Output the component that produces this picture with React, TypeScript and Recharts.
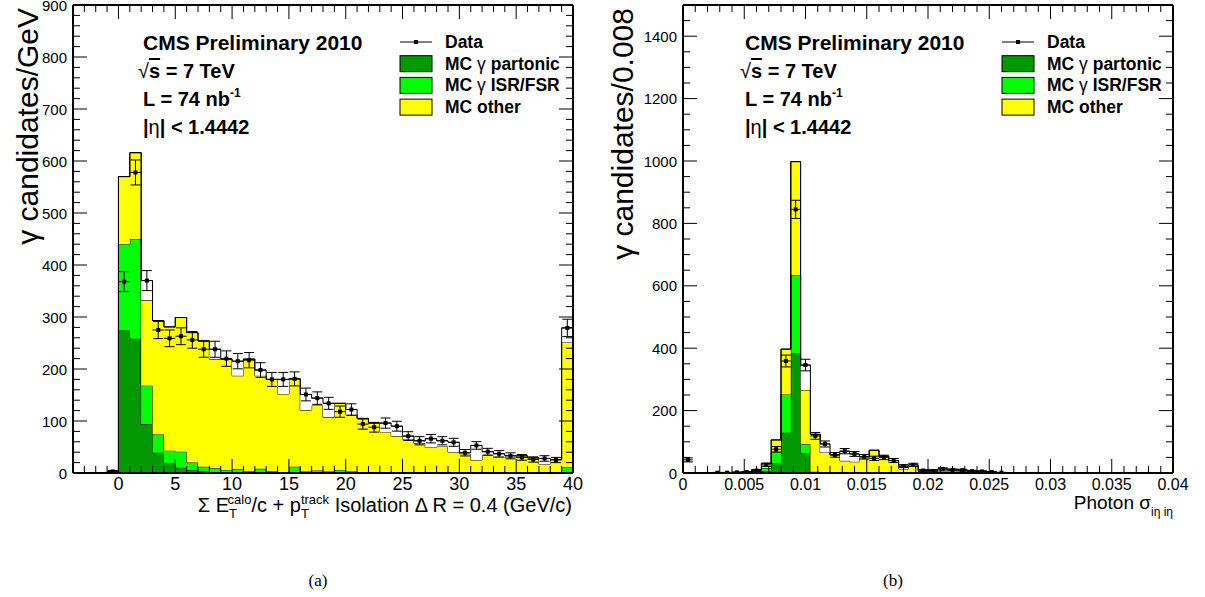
import { ComposedChart, Area, Scatter, ErrorBar, XAxis, YAxis } from 'recharts';

const FONT = '"Liberation Sans", Arial, Helvetica, sans-serif';

// isolation panel, 1 GeV bins starting at -1
const isoLow = -1;
const isoWidth = 1;
const isoTotal = [3, 570, 616, 332, 293, 281, 299, 270, 254, 219, 219, 187, 219, 187, 180, 152, 181, 121, 130, 107, 134, 112, 105, 96, 79, 71, 65, 57, 49, 51, 40, 37, 25, 34, 30, 31, 33, 29, 17, 26, 251];
const isoGreenTop = [3, 440, 450, 168, 74, 43, 41, 20, 12, 9, 6, 7, 4, 8, 4, 1, 12, 3, 5, 3, 6, 3, 2, 2, 2, 2, 2, 1, 1, 1, 1, 1, 1, 1, 1, 1, 1, 1, 1, 1, 11];
const isoPartonic = [3, 274, 258, 94, 39, 19, 10, 6, 3, 2, 1, 1, 1, 1, 1, 1, 1, 1, 1, 1, 1, 1, 1, 1, 0, 0, 0, 0, 0, 0, 0, 0, 0, 0, 0, 0, 0, 0, 0, 0, 1];
const isoData = [3, 368, 578, 370, 275, 259, 263, 256, 238, 238, 220, 215, 217, 198, 180, 180, 181, 151, 144, 134, 118, 122, 94, 88, 96, 90, 71, 62, 66, 62, 59, 39, 53, 41, 37, 33, 30, 26, 28, 25, 279];
const isoOpen = [0, 0, 0, 38, 0, 0, 0, 0, 0, 19, 0, 28, 0, 11, 0, 28, 0, 30, 14, 27, 0, 10, 0, 0, 17, 19, 6, 5, 17, 11, 19, 2, 28, 7, 7, 2, 0, 0, 11, 0, 28];

// sigma ieta ieta panel, 0.0008 bins starting at 0
const sieLow = 0;
const sieWidth = 0.0008;
const sieTotal = [0, 0, 0, 0, 0, 0, 2, 10, 31, 106, 397, 998, 266, 124, 66, 58, 39, 36, 49, 73, 54, 36, 13, 22, 8, 10, 6, 4, 3, 2, 1, 1, 0, 0, 0, 0, 0, 0, 0, 0, 0, 0, 0, 0, 0, 0, 0, 0, 0, 0];
const sieGreenTop = [0, 0, 0, 0, 0, 0, 2, 8, 16, 68, 252, 635, 92, 4, 3, 2, 2, 1, 2, 2, 1, 1, 0, 0, 0, 0, 0, 0, 0, 0, 0, 0, 0, 0, 0, 0, 0, 0, 0, 0, 0, 0, 0, 0, 0, 0, 0, 0, 0, 0];
const siePartonic = [0, 0, 0, 0, 0, 0, 1, 6, 6, 31, 129, 384, 63, 1, 1, 1, 1, 0, 0, 0, 0, 0, 0, 0, 0, 0, 0, 0, 0, 0, 0, 0, 0, 0, 0, 0, 0, 0, 0, 0, 0, 0, 0, 0, 0, 0, 0, 0, 0, 0];
const sieData = [42, 0, 0, 1, 1, 2, 3, 8, 26, 76, 359, 845, 346, 119, 93, 58, 70, 61, 52, 47, 50, 40, 22, 26, 8, 6, 13, 10, 9, 6, 5, 3, 1, 0, 0, 0, 0, 0, 0, 0, 0, 0, 0, 0, 0, 0, 0, 0, 0, 0];
const sieOpen = [0, 0, 0, 0, 0, 0, 1, 0, 0, 0, 0, 0, 80, 0, 27, 0, 31, 25, 3, 0, 0, 4, 9, 4, 0, 0, 7, 6, 6, 4, 4, 2, 0, 0, 0, 0, 0, 0, 0, 0, 0, 0, 0, 0, 0, 0, 0, 0, 0, 0];

const isoXTicks = Array.from({ length: 45 }, (_, i) => i - 4);
const isoYTicks = Array.from({ length: 46 }, (_, i) => i * 20);
const sieXTicks = Array.from({ length: 41 }, (_, i) => +(i * 0.001).toFixed(3));
const sieYTicks = Array.from({ length: 31 }, (_, i) => i * 50);

const legendItems = [
  { label: 'Data', color: '' },
  { label: 'MC γ partonic', color: '#009900' },
  { label: 'MC γ ISR/FSR', color: '#00ff00' },
  { label: 'MC other', color: '#ffff00' },
];

function histRows(low: number, width: number, partonic: number[], greenTop: number[], total: number[], open: number[]) {
  const rows = [];
  for (let i = 0; i <= total.length; i++) {
    const k = Math.min(i, total.length - 1);
    rows.push({
      x: +(low + i * width).toFixed(6),
      partonic: partonic[k],
      isr: greenTop[k] - partonic[k],
      other: total[k] - greenTop[k],
      open: open[k],
    });
  }
  return rows;
}

function pointRows(low: number, width: number, data: number[]) {
  return data
    .map((v, i) => ({ x: low + (i + 0.5) * width, y: v, ey: Math.sqrt(v), ex: width / 2 }))
    .filter((p) => p.y > 0);
}

const isMajor = (v: number, step: number) => Math.abs(v / step - Math.round(v / step)) < 1e-6;

function makeTick(side: string, step: number, fontSize: number, fmt?: (v: number) => string) {
  return (props: any) => {
    const { x, y, payload } = props;
    const v = payload.value;
    const major = isMajor(v, step);
    const len = major ? 14 : 7;
    let line = null;
    let label = null;
    if (side === 'bottom') {
      line = <line x1={x} y1={y} x2={x} y2={y - len} stroke="#000" strokeWidth={1} />;
      if (major && fmt) label = <text x={x} y={y + 17} textAnchor="middle" fontSize={fontSize} fontFamily={FONT}>{fmt(v)}</text>;
    } else if (side === 'top') {
      line = <line x1={x} y1={y} x2={x} y2={y + len} stroke="#000" strokeWidth={1} />;
    } else if (side === 'left') {
      line = <line x1={x} y1={y} x2={x + len} y2={y} stroke="#000" strokeWidth={1} />;
      if (major && fmt) label = <text x={x - 6} y={y} textAnchor="end" dominantBaseline="central" fontSize={fontSize} fontFamily={FONT}>{fmt(v)}</text>;
    } else {
      line = <line x1={x} y1={y} x2={x - len} y2={y} stroke="#000" strokeWidth={1} />;
    }
    return <g>{line}{label}</g>;
  };
}

const marker = (p: any) => <rect x={p.cx - 2} y={p.cy - 2} width={4} height={4} fill="#000" />;

type PanelProps = {
  rows: any[];
  points: any[];
  xDomain: number[];
  xTicks: number[];
  xStep: number;
  xFont: number;
  xFmt: (v: number) => string;
  yDomain: number[];
  yTicks: number[];
  yStep: number;
  right: number;
};

const frame = { stroke: '#000', strokeWidth: 2 };

function Panel(p: PanelProps) {
  return (
    <ComposedChart width={600} height={520} data={p.rows} margin={{ top: 4, right: p.right, bottom: 17, left: 13 }}>
      <Area xAxisId="b" yAxisId="l" type="stepAfter" dataKey="partonic" stackId="mc" fill="#009900" fillOpacity={1} stroke="#000" strokeWidth={1} dot={false} activeDot={false} isAnimationActive={false} />
      <Area xAxisId="b" yAxisId="l" type="stepAfter" dataKey="isr" stackId="mc" fill="#00ff00" fillOpacity={1} stroke="#000" strokeWidth={1} dot={false} activeDot={false} isAnimationActive={false} />
      <Area xAxisId="b" yAxisId="l" type="stepAfter" dataKey="other" stackId="mc" fill="#ffff00" fillOpacity={1} stroke="#000" strokeWidth={1} dot={false} activeDot={false} isAnimationActive={false} />
      <Area xAxisId="b" yAxisId="l" type="stepAfter" dataKey="open" stackId="mc" fill="#ffffff" fillOpacity={1} stroke="#000" strokeWidth={1} dot={false} activeDot={false} isAnimationActive={false} />
      <Scatter xAxisId="b" yAxisId="l" data={p.points} dataKey="y" fill="#000" shape={marker} isAnimationActive={false}>
        <ErrorBar dataKey="ey" direction="y" width={5} stroke="#000" strokeWidth={1} />
        <ErrorBar dataKey="ex" direction="x" width={0} stroke="#000" strokeWidth={1} />
      </Scatter>
      <XAxis xAxisId="b" type="number" dataKey="x" domain={p.xDomain} allowDataOverflow ticks={p.xTicks} interval={0} tickSize={0} tickMargin={0} tickLine={false} tick={makeTick('bottom', p.xStep, p.xFont, p.xFmt)} axisLine={frame} height={30} />
      <XAxis xAxisId="t" orientation="top" type="number" dataKey="x" domain={p.xDomain} allowDataOverflow ticks={p.xTicks} interval={0} tickSize={0} tickMargin={0} tickLine={false} tick={makeTick('top', p.xStep, 0)} axisLine={frame} height={1} />
      <YAxis yAxisId="l" type="number" domain={p.yDomain} allowDataOverflow ticks={p.yTicks} interval={0} tickSize={0} tickMargin={0} tickLine={false} tick={makeTick('left', p.yStep, 15, (v) => String(v))} axisLine={frame} width={60} />
      <YAxis yAxisId="r" orientation="right" type="number" domain={p.yDomain} allowDataOverflow ticks={p.yTicks} interval={0} tickSize={0} tickMargin={0} tickLine={false} tick={makeTick('right', p.yStep, 0)} axisLine={frame} width={10} />
    </ComposedChart>
  );
}

function withGreek(label: string) {
  const parts = label.split('γ');
  if (parts.length === 1) return label;
  return (
    <>
      {parts[0]}
      <tspan fontWeight="normal">γ</tspan>
      {parts[1]}
    </>
  );
}

function Notes({ tx, lx }: { tx: number; lx: number }) {
  return (
    <g fontFamily={FONT} fontWeight="bold" fill="#000">
      <text x={tx} y={50} fontSize={21}>CMS Preliminary 2010</text>
      <text x={tx - 5} y={78} fontSize={20}>
        <tspan fontWeight="normal">√</tspan>
        <tspan style={{ textDecoration: 'overline' }}>s</tspan> = 7 TeV
      </text>
      <text x={tx} y={106} fontSize={20}>
        L = 74 nb<tspan fontSize={12} dy={-9}>-1</tspan>
      </text>
      <text x={tx} y={134} fontSize={20}>
        |<tspan fontWeight="normal">η</tspan>| &lt; 1.4442
      </text>
      {legendItems.map((it, i) => {
        const cy = 42 + i * 21.7;
        return (
          <g key={it.label}>
            {it.color ? (
              <rect x={lx} y={cy - 8} width={32} height={16} fill={it.color} stroke="#000" strokeWidth={1} />
            ) : (
              <>
                <line x1={lx} y1={cy} x2={lx + 32} y2={cy} stroke="#000" strokeWidth={1} />
                <rect x={lx + 14} y={cy - 2} width={4} height={4} fill="#000" />
              </>
            )}
            <text x={lx + 45} y={cy} dominantBaseline="central" fontSize={17.5}>{withGreek(it.label)}</text>
          </g>
        );
      })}
    </g>
  );
}

export default function App() {
  const isoRows = histRows(isoLow, isoWidth, isoPartonic, isoGreenTop, isoTotal, isoOpen);
  const isoPoints = pointRows(isoLow, isoWidth, isoData);
  const sieRows = histRows(sieLow, sieWidth, siePartonic, sieGreenTop, sieTotal, sieOpen);
  const siePoints = pointRows(sieLow, sieWidth, sieData);

  return (
    <div style={{ position: 'absolute', left: 0, top: 0, width: 1205, height: 597, background: '#fff', overflow: 'hidden' }}>
      <div style={{ position: 'absolute', left: 0, top: 0 }}>
        <Panel rows={isoRows} points={isoPoints} xDomain={[-4, 40]} xTicks={isoXTicks} xStep={5} xFont={18} xFmt={(v) => String(v)}
          yDomain={[0, 900]} yTicks={isoYTicks} yStep={100} right={17} />
      </div>
      <div style={{ position: 'absolute', left: 610, top: 0 }}>
        <Panel rows={sieRows} points={siePoints} xDomain={[0, 0.04]} xTicks={sieXTicks} xStep={0.005} xFont={16}
          xFmt={(v) => (v === 0 ? '0' : String(+v.toFixed(3)))} yDomain={[0, 1500]} yTicks={sieYTicks} yStep={200} right={27} />
      </div>
      <svg width={1205} height={597} style={{ position: 'absolute', left: 0, top: 0, pointerEvents: 'none' }}>
        <Notes tx={143} lx={400} />
        <Notes tx={745} lx={1002} />
        <text transform="translate(38,8) rotate(-90)" textAnchor="end" fontSize={30} fontFamily={FONT}>γ candidates/GeV</text>
        <text transform="translate(633,8) rotate(-90)" textAnchor="end" fontSize={30} fontFamily={FONT}>γ candidates/0.008</text>
        <text x={572} y={512} textAnchor="end" fontSize={20} fontFamily={FONT}>
          Σ E<tspan fontSize={13} dy={6}>T</tspan>
          <tspan fontSize={13} dx={-8} dy={-14}>calo</tspan>
          <tspan dy={8}>/c + p</tspan>
          <tspan fontSize={13} dy={6}>T</tspan>
          <tspan fontSize={13} dx={-8} dy={-14}>track</tspan>
          <tspan dy={8}> Isolation Δ R = 0.4 (GeV/c)</tspan>
        </text>
        <text x={1173} y={509} textAnchor="end" fontSize={19} fontFamily={FONT}>
          Photon σ<tspan fontSize={12} dy={7}>iη iη</tspan>
        </text>
        <text x={318} y={586} textAnchor="middle" fontSize={17} fontFamily='"Liberation Serif", "Times New Roman", serif'>(a)</text>
        <text x={893} y={586} textAnchor="middle" fontSize={17} fontFamily='"Liberation Serif", "Times New Roman", serif'>(b)</text>
      </svg>
    </div>
  );
}
